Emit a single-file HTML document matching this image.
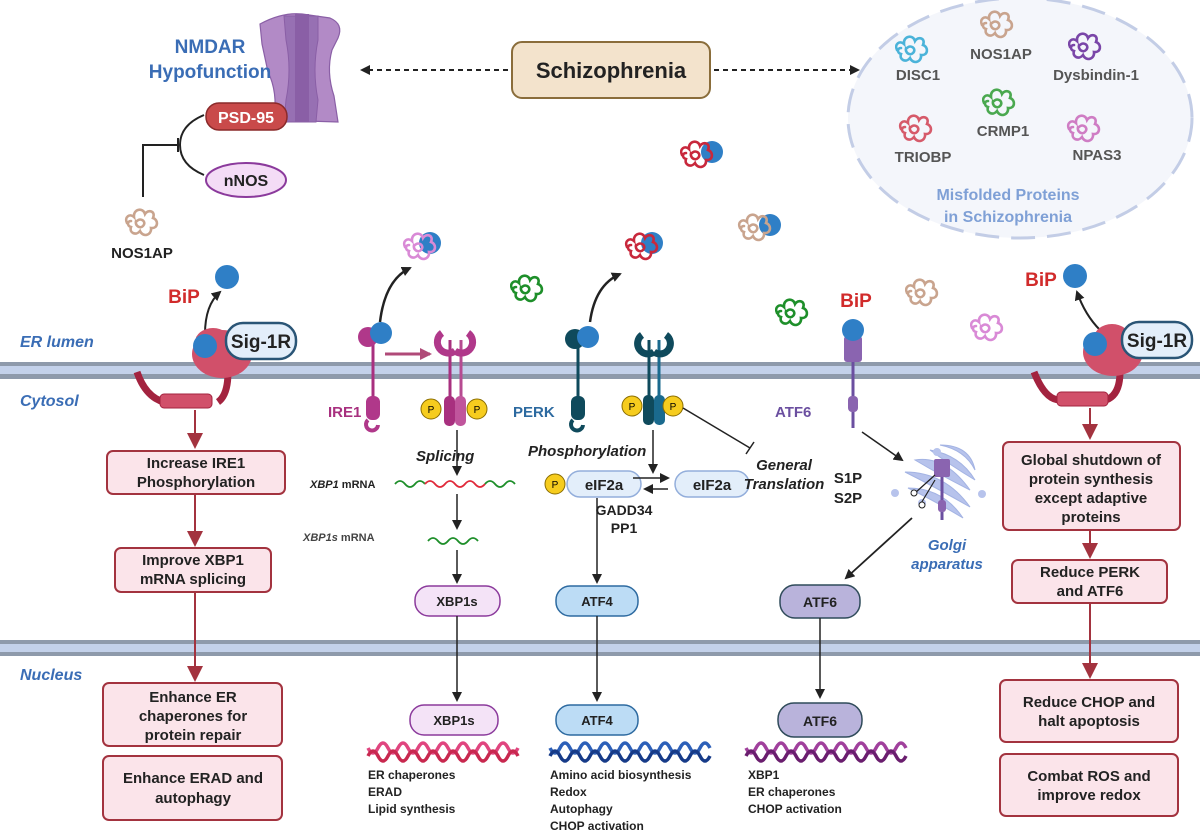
<!DOCTYPE html>
<html><head><meta charset="utf-8"><style>
html,body{margin:0;padding:0;background:#fff;}
svg{display:block;font-family:"Liberation Sans",Arial,sans-serif;}
</style></head><body>
<svg width="1200" height="832" viewBox="0 0 1200 832" xmlns="http://www.w3.org/2000/svg">
<defs>
<path id="sq" d="M-13,3 c-3,-6 3,-10 7,-6 c-1,-8 9,-10 11,-3 c3,-5 11,-3 8,4 c6,2 5,11 -2,10 c1,7 -8,10 -11,3 c-4,5 -11,2 -9,-4 c-4,-1 -4,-6 0,-6 M-3,1 c4,-4 10,1 6,5 c-3,3 -8,0 -7,-5" fill="none" stroke-width="2.6" stroke-linecap="round"/>
<marker id="ak" markerWidth="10" markerHeight="10" refX="8" refY="5" orient="auto" markerUnits="userSpaceOnUse"><path d="M0,0 L10,5 L0,10 z" fill="#222"/></marker>
<marker id="ar" markerWidth="18" markerHeight="16" refX="14" refY="8" orient="auto" markerUnits="userSpaceOnUse"><path d="M0,0 L16,8 L0,16 z" fill="#a3333f"/></marker>
<marker id="ap" markerWidth="12" markerHeight="12" refX="10" refY="6" orient="auto" markerUnits="userSpaceOnUse"><path d="M0,0 L12,6 L0,12 z" fill="#b04a78"/></marker>
</defs>

<rect x="0" y="362" width="1200" height="17" fill="#8e9aab"/>
<rect x="0" y="366" width="1200" height="8" fill="#c3d1ea"/>
<rect x="0" y="640" width="1200" height="16" fill="#8e9aab"/>
<rect x="0" y="644" width="1200" height="8" fill="#c3d1ea"/>

<g fill="#3a6db5" font-style="italic" font-weight="bold" font-size="16">
<text x="20" y="347">ER lumen</text>
<text x="20" y="406">Cytosol</text>
<text x="20" y="680">Nucleus</text>
</g>

<ellipse cx="1020" cy="118" rx="172" ry="120" fill="#f4f6fb" stroke="#c3cde6" stroke-width="3" stroke-dasharray="24,12"/>
<g font-size="15" font-weight="bold" fill="#555" text-anchor="middle">
<use href="#sq" x="910" y="47" stroke="#4bb3d9"/><text x="918" y="80">DISC1</text>
<use href="#sq" x="995" y="22" stroke="#c9a48e"/><text x="1001" y="59">NOS1AP</text>
<use href="#sq" x="1083" y="44" stroke="#7a46a8"/><text x="1096" y="80">Dysbindin-1</text>
<use href="#sq" x="997" y="100" stroke="#4aa84f"/><text x="1003" y="136">CRMP1</text>
<use href="#sq" x="914" y="126" stroke="#d65a6a"/><text x="923" y="162">TRIOBP</text>
<use href="#sq" x="1082" y="126" stroke="#cf7dc4"/><text x="1097" y="160">NPAS3</text>
</g>
<g font-size="16" font-weight="bold" fill="#7fa0d6" text-anchor="middle">
<text x="1008" y="200">Misfolded Proteins</text><text x="1008" y="222">in Schizophrenia</text></g>

<rect x="512" y="42" width="198" height="56" rx="10" fill="#f3e3cc" stroke="#8a6d3b" stroke-width="2"/>
<text x="611" y="78" font-size="22" font-weight="bold" text-anchor="middle" fill="#222">Schizophrenia</text>
<line x1="508" y1="70" x2="362" y2="70" stroke="#222" stroke-width="2" stroke-dasharray="5,4" marker-end="url(#ak)"/>
<line x1="714" y1="70" x2="858" y2="70" stroke="#222" stroke-width="2" stroke-dasharray="5,4" marker-end="url(#ak)"/>

<!-- NMDAR -->
<path d="M260,24 Q282,12 302,14 L330,18 Q344,24 338,38 L332,50 Q326,72 334,96 L338,122 L274,120 Q278,92 268,72 L262,44 z" fill="#b28ac6" stroke="#8a5fa6" stroke-width="1.2"/>
<path d="M284,16 L318,16 L318,40 Q312,70 318,100 L316,122 L284,122 L286,100 Q292,70 286,40 z" fill="#9770b3" stroke="#8a5fa6"/>
<rect x="295" y="14" width="14" height="108" fill="#8a5fa6"/>
<text x="210" y="53" font-size="19" font-weight="bold" fill="#3a6db5" text-anchor="middle">NMDAR</text>
<text x="210" y="78" font-size="19" font-weight="bold" fill="#3a6db5" text-anchor="middle">Hypofunction</text>
<rect x="206" y="103" width="81" height="27" rx="13" fill="#c94a4a" stroke="#8a2a2a" stroke-width="1.5"/>
<text x="246" y="123" font-size="16" font-weight="bold" fill="#fff" text-anchor="middle">PSD-95</text>
<ellipse cx="246" cy="180" rx="40" ry="17" fill="#f4dcf6" stroke="#8b3a9c" stroke-width="2"/>
<text x="246" y="186" font-size="16" font-weight="bold" text-anchor="middle" fill="#222">nNOS</text>
<path d="M204,115 Q180,125 180,145 Q180,165 204,175" fill="none" stroke="#222" stroke-width="2"/>
<path d="M143,197 L143,145 L178,145" fill="none" stroke="#222" stroke-width="2"/>
<line x1="178" y1="138" x2="178" y2="152" stroke="#222" stroke-width="2"/>
<use href="#sq" x="140" y="220" stroke="#c9a48e"/>
<text x="142" y="258" font-size="15" font-weight="bold" text-anchor="middle" fill="#222">NOS1AP</text>

<circle cx="712" cy="152" r="11" fill="#2f7fc6"/><use href="#sq" x="695" y="152" stroke="#c8283c"/>
<circle cx="770" cy="225" r="11" fill="#2f7fc6"/><use href="#sq" x="753" y="225" stroke="#c9a48e"/>
<use href="#sq" x="525" y="286" stroke="#1e8f2a"/>
<use href="#sq" x="790" y="310" stroke="#1e8f2a"/>
<use href="#sq" x="920" y="290" stroke="#c9a48e"/>
<use href="#sq" x="985" y="325" stroke="#d98ad6"/>

<text x="184" y="303" font-size="19" font-weight="bold" fill="#d12b2b" text-anchor="middle">BiP</text>
<circle cx="227" cy="277" r="12" fill="#2f7fc6"/>
<path d="M205,334 Q205,305 220,292" fill="none" stroke="#222" stroke-width="2" marker-end="url(#ak)"/>
<path d="M137,372 Q150,410 186,402 M218,402 Q228,395 228,372" fill="none" stroke="#a3233f" stroke-width="7"/>
<rect x="160" y="394" width="52" height="14" rx="4" fill="#d1506a" stroke="#a3233f"/>
<ellipse cx="222" cy="354" rx="30" ry="24" fill="#d1506a"/><ellipse cx="213" cy="342" rx="18" ry="14" fill="#d1506a"/>
<circle cx="205" cy="346" r="12" fill="#2f7fc6"/>
<rect x="226" y="323" width="70" height="36" rx="17" fill="#e3eefa" stroke="#2a5576" stroke-width="2.5"/>
<text x="261" y="348" font-size="19" font-weight="bold" text-anchor="middle" fill="#222">Sig-1R</text>
<line x1="195" y1="410" x2="195" y2="447" stroke="#a3333f" stroke-width="2" marker-end="url(#ar)"/>

<text x="1041" y="286" font-size="19" font-weight="bold" fill="#d12b2b" text-anchor="middle">BiP</text>
<circle cx="1075" cy="276" r="12" fill="#2f7fc6"/>
<path d="M1100,330 Q1085,315 1077,292" fill="none" stroke="#222" stroke-width="2" marker-end="url(#ak)"/>
<path d="M1034,372 Q1045,400 1060,400 M1106,400 Q1120,395 1120,372" fill="none" stroke="#a3233f" stroke-width="7"/>
<rect x="1057" y="392" width="51" height="14" rx="4" fill="#d1506a" stroke="#a3233f"/>
<ellipse cx="1113" cy="352" rx="30" ry="24" fill="#d1506a"/><ellipse cx="1112" cy="338" rx="18" ry="14" fill="#d1506a"/>
<circle cx="1095" cy="344" r="12" fill="#2f7fc6"/>
<rect x="1122" y="322" width="70" height="36" rx="17" fill="#e3eefa" stroke="#2a5576" stroke-width="2.5"/>
<text x="1157" y="347" font-size="19" font-weight="bold" text-anchor="middle" fill="#222">Sig-1R</text>
<line x1="1090" y1="408" x2="1090" y2="438" stroke="#a3333f" stroke-width="2" marker-end="url(#ar)"/>

<g fill="#fbe4ea" stroke="#a3333f" stroke-width="2">
<rect x="107" y="451" width="178" height="43" rx="6"/>
<rect x="115" y="548" width="156" height="44" rx="6"/>
<rect x="103" y="683" width="179" height="63" rx="6"/>
<rect x="103" y="756" width="179" height="64" rx="6"/>
<rect x="1003" y="442" width="177" height="88" rx="6"/>
<rect x="1012" y="560" width="155" height="43" rx="6"/>
<rect x="1000" y="680" width="178" height="62" rx="6"/>
<rect x="1000" y="754" width="178" height="62" rx="6"/>
</g>
<line x1="195" y1="494" x2="195" y2="545" stroke="#a3333f" stroke-width="2" marker-end="url(#ar)"/>
<line x1="195" y1="592" x2="195" y2="680" stroke="#a3333f" stroke-width="2" marker-end="url(#ar)"/>
<line x1="1090" y1="530" x2="1090" y2="557" stroke="#a3333f" stroke-width="2" marker-end="url(#ar)"/>
<line x1="1090" y1="603" x2="1090" y2="677" stroke="#a3333f" stroke-width="2" marker-end="url(#ar)"/>
<g font-size="15" font-weight="bold" fill="#222" text-anchor="middle">
<text x="196" y="468">Increase IRE1</text><text x="196" y="487">Phosphorylation</text>
<text x="193" y="565">Improve XBP1</text><text x="193" y="584">mRNA splicing</text>
<text x="193" y="702">Enhance ER</text><text x="193" y="721">chaperones for</text><text x="193" y="740">protein repair</text>
<text x="193" y="783">Enhance ERAD and</text><text x="193" y="803">autophagy</text>
<text x="1091" y="465">Global shutdown of</text><text x="1091" y="484">protein synthesis</text><text x="1091" y="503">except adaptive</text><text x="1091" y="522">proteins</text>
<text x="1090" y="577">Reduce PERK</text><text x="1090" y="596">and ATF6</text>
<text x="1089" y="707">Reduce CHOP and</text><text x="1089" y="726">halt apoptosis</text>
<text x="1089" y="781">Combat ROS and</text><text x="1089" y="800">improve redox</text>
</g>

<circle cx="430" cy="243" r="11" fill="#2f7fc6"/><use href="#sq" x="418" y="244" stroke="#d98ad6"/>
<path d="M380,322 Q385,280 410,268" fill="none" stroke="#222" stroke-width="2.5" marker-end="url(#ak)"/>
<line x1="373" y1="340" x2="373" y2="400" stroke="#a8307f" stroke-width="3"/>
<circle cx="368" cy="337" r="10" fill="#b0388a"/><circle cx="381" cy="333" r="11" fill="#2f7fc6"/>
<rect x="366" y="396" width="14" height="24" rx="6" fill="#b0388a"/>
<path d="M368,420 a6,6 0 1 0 10,5" fill="none" stroke="#b0388a" stroke-width="4"/>
<line x1="385" y1="354" x2="430" y2="354" stroke="#b04a78" stroke-width="3" marker-end="url(#ap)"/>
<line x1="450" y1="340" x2="450" y2="400" stroke="#a8307f" stroke-width="3"/>
<line x1="461" y1="340" x2="461" y2="400" stroke="#b64b91" stroke-width="3"/>
<path d="M442,333 a10,10 0 0 0 13,18 M468,333 a10,10 0 0 1 -13,18" fill="none" stroke="#b0388a" stroke-width="7"/>
<rect x="444" y="396" width="11" height="30" rx="5" fill="#a8307f"/><rect x="455" y="396" width="11" height="30" rx="5" fill="#c0559c"/>
<circle cx="431" cy="409" r="10" fill="#f6cc1e" stroke="#8a6d00"/><text x="431" y="413" font-size="10" text-anchor="middle">P</text>
<circle cx="477" cy="409" r="10" fill="#f6cc1e" stroke="#8a6d00"/><text x="477" y="413" font-size="10" text-anchor="middle">P</text>
<text x="328" y="417" font-size="15" font-weight="bold" fill="#a8307f">IRE1</text>
<text x="416" y="461" font-size="15" font-weight="bold" font-style="italic" fill="#222">Splicing</text>
<line x1="457" y1="430" x2="457" y2="474" stroke="#222" stroke-width="1.5" marker-end="url(#ak)"/>
<text x="310" y="488" font-size="11" font-weight="bold" fill="#222"><tspan font-style="italic">XBP1</tspan> mRNA</text>
<path d="M395,484 q5,-6 10,0 t10,0 t10,0" fill="none" stroke="#1e8f2a" stroke-width="1.8"/>
<path d="M425,484 q5,-6 10,0 t10,0 t10,0 t10,0 t10,0 t10,0" fill="none" stroke="#e02a3a" stroke-width="1.8"/>
<path d="M485,484 q5,-6 10,0 t10,0 t10,0" fill="none" stroke="#1e8f2a" stroke-width="1.8"/>
<line x1="457" y1="494" x2="457" y2="528" stroke="#222" stroke-width="1.5" marker-end="url(#ak)"/>
<text x="303" y="541" font-size="11" font-weight="bold" fill="#444"><tspan font-style="italic">XBP1s</tspan> mRNA</text>
<path d="M428,541 q5,-6 10,0 t10,0 t10,0 t10,0 t10,0" fill="none" stroke="#1e8f2a" stroke-width="1.8"/>
<line x1="457" y1="550" x2="457" y2="582" stroke="#222" stroke-width="1.5" marker-end="url(#ak)"/>
<rect x="415" y="586" width="85" height="30" rx="14" fill="#f4e3f7" stroke="#8b3a9c" stroke-width="1.5"/>
<text x="457" y="606" font-size="13" font-weight="bold" text-anchor="middle" fill="#222">XBP1s</text>
<line x1="457" y1="616" x2="457" y2="700" stroke="#222" stroke-width="1.5" marker-end="url(#ak)"/>
<rect x="410" y="705" width="88" height="30" rx="14" fill="#f4e3f7" stroke="#8b3a9c" stroke-width="1.5"/>
<text x="454" y="725" font-size="13" font-weight="bold" text-anchor="middle" fill="#222">XBP1s</text>
<path d="M368,748 q5,10 10,0 t10,0 t10,0 t10,0 t10,0 t10,0 t10,0 t10,0 t10,0 t10,0 t10,0 t10,0 t10,0 t10,0 t10,0" fill="none" stroke="#e0457f" stroke-width="3.5"/>
<path d="M368,756 q5,-10 10,0 t10,0 t10,0 t10,0 t10,0 t10,0 t10,0 t10,0 t10,0 t10,0 t10,0 t10,0 t10,0 t10,0 t10,0" fill="none" stroke="#c8284f" stroke-width="3.5"/>
<g font-size="12" font-weight="bold" fill="#222">
<text x="368" y="779">ER chaperones</text><text x="368" y="796">ERAD</text><text x="368" y="813">Lipid synthesis</text>
<text x="550" y="779">Amino acid biosynthesis</text><text x="550" y="796">Redox</text><text x="550" y="813">Autophagy</text><text x="550" y="830">CHOP activation</text>
<text x="748" y="779">XBP1</text><text x="748" y="796">ER chaperones</text><text x="748" y="813">CHOP activation</text>
</g>

<circle cx="652" cy="243" r="11" fill="#2f7fc6"/><use href="#sq" x="640" y="244" stroke="#c8283c"/>
<path d="M590,322 Q595,285 620,274" fill="none" stroke="#222" stroke-width="2.5" marker-end="url(#ak)"/>
<line x1="578" y1="340" x2="578" y2="400" stroke="#0f4a5c" stroke-width="3"/>
<circle cx="575" cy="339" r="10" fill="#0f4a5c"/><circle cx="588" cy="337" r="11" fill="#2f7fc6"/>
<rect x="571" y="396" width="14" height="24" rx="6" fill="#0f4a5c"/>
<path d="M573,420 a6,6 0 1 0 10,5" fill="none" stroke="#0f4a5c" stroke-width="4"/>
<line x1="649" y1="340" x2="649" y2="400" stroke="#0f4a5c" stroke-width="3"/>
<line x1="659" y1="340" x2="659" y2="400" stroke="#1a6a8e" stroke-width="3"/>
<path d="M642,335 a10,10 0 0 0 12,17 M666,335 a10,10 0 0 1 -12,17" fill="none" stroke="#0f4a5c" stroke-width="7"/>
<rect x="643" y="395" width="11" height="30" rx="5" fill="#0f4a5c"/><rect x="654" y="395" width="11" height="30" rx="5" fill="#1a6a8e"/>
<circle cx="632" cy="406" r="10" fill="#f6cc1e" stroke="#8a6d00"/><text x="632" y="410" font-size="10" text-anchor="middle">P</text>
<circle cx="673" cy="406" r="10" fill="#f6cc1e" stroke="#8a6d00"/><text x="673" y="410" font-size="10" text-anchor="middle">P</text>
<text x="513" y="417" font-size="15" font-weight="bold" fill="#2d6aa0">PERK</text>
<line x1="683" y1="408" x2="750" y2="448" stroke="#222" stroke-width="1.5"/>
<line x1="746" y1="454" x2="754" y2="442" stroke="#222" stroke-width="1.5"/>
<text x="528" y="456" font-size="15" font-weight="bold" font-style="italic" fill="#222">Phosphorylation</text>
<line x1="653" y1="430" x2="653" y2="472" stroke="#222" stroke-width="1.5" marker-end="url(#ak)"/>
<circle cx="555" cy="484" r="10" fill="#f6cc1e" stroke="#8a6d00"/><text x="555" y="488" font-size="10" text-anchor="middle">P</text>
<rect x="567" y="471" width="74" height="26" rx="13" fill="#e3eefa" stroke="#93aedb" stroke-width="1.5"/>
<text x="604" y="490" font-size="15" font-weight="bold" text-anchor="middle" fill="#222">eIF2a</text>
<rect x="675" y="471" width="74" height="26" rx="13" fill="#e3eefa" stroke="#93aedb" stroke-width="1.5"/>
<text x="712" y="490" font-size="15" font-weight="bold" text-anchor="middle" fill="#222">eIF2a</text>
<line x1="633" y1="478" x2="668" y2="478" stroke="#222" stroke-width="1.5" marker-end="url(#ak)"/>
<line x1="668" y1="489" x2="645" y2="489" stroke="#222" stroke-width="1.5" marker-end="url(#ak)"/>
<text x="624" y="515" font-size="14" font-weight="bold" text-anchor="middle" fill="#222">GADD34</text>
<text x="624" y="533" font-size="14" font-weight="bold" text-anchor="middle" fill="#222">PP1</text>
<text x="784" y="470" font-size="15" font-weight="bold" font-style="italic" text-anchor="middle" fill="#222">General</text>
<text x="784" y="489" font-size="15" font-weight="bold" font-style="italic" text-anchor="middle" fill="#222">Translation</text>
<line x1="597" y1="498" x2="597" y2="582" stroke="#222" stroke-width="1.5" marker-end="url(#ak)"/>
<rect x="556" y="586" width="82" height="30" rx="14" fill="#bcdcf5" stroke="#2d6aa0" stroke-width="1.5"/>
<text x="597" y="606" font-size="13" font-weight="bold" text-anchor="middle" fill="#222">ATF4</text>
<line x1="597" y1="616" x2="597" y2="700" stroke="#222" stroke-width="1.5" marker-end="url(#ak)"/>
<rect x="556" y="705" width="82" height="30" rx="14" fill="#bcdcf5" stroke="#2d6aa0" stroke-width="1.5"/>
<text x="597" y="725" font-size="13" font-weight="bold" text-anchor="middle" fill="#222">ATF4</text>
<path d="M550,748 q5,10 10,0 t10,0 t10,0 t10,0 t10,0 t10,0 t10,0 t10,0 t10,0 t10,0 t10,0 t10,0 t10,0 t10,0 t10,0 t10,0" fill="none" stroke="#2c5fb8" stroke-width="3.5"/>
<path d="M550,756 q5,-10 10,0 t10,0 t10,0 t10,0 t10,0 t10,0 t10,0 t10,0 t10,0 t10,0 t10,0 t10,0 t10,0 t10,0 t10,0 t10,0" fill="none" stroke="#163a88" stroke-width="3.5"/>

<text x="856" y="307" font-size="19" font-weight="bold" fill="#d12b2b" text-anchor="middle">BiP</text>
<line x1="853" y1="340" x2="853" y2="428" stroke="#6b4fa0" stroke-width="3"/>
<rect x="844" y="336" width="18" height="26" rx="3" fill="#8a64b0"/>
<circle cx="853" cy="330" r="11" fill="#2f7fc6"/>
<rect x="848" y="396" width="10" height="16" rx="4" fill="#8a64b0"/>
<text x="775" y="417" font-size="15" font-weight="bold" fill="#6b4fa0">ATF6</text>
<line x1="862" y1="432" x2="902" y2="460" stroke="#222" stroke-width="1.5" marker-end="url(#ak)"/>
<g fill="#b7c3ec" stroke="#a3b3e3">
<path d="M915,460 q30,-5 55,30 q-30,-15 -55,-30z"/>
<path d="M905,472 q40,0 65,35 q-35,-20 -65,-35z"/>
<path d="M908,488 q35,0 55,30 q-30,-18 -55,-30z"/>
<path d="M930,450 q30,5 45,30 q-25,-15 -45,-30z"/>
<path d="M975,470 q-10,-20 -35,-25 q30,0 35,25z"/>
</g>
<circle cx="937" cy="452" r="4" fill="#b7c3ec"/><circle cx="895" cy="493" r="4" fill="#b7c3ec"/><circle cx="982" cy="494" r="4" fill="#b7c3ec"/><circle cx="922" cy="503" r="4" fill="#b7c3ec"/>
<line x1="942" y1="465" x2="942" y2="520" stroke="#6b4fa0" stroke-width="3"/>
<rect x="934" y="459" width="16" height="18" rx="2" fill="#8a64b0"/>
<rect x="938" y="500" width="8" height="12" rx="3" fill="#8a64b0"/>
<path d="M915,493 l20,-18 M920,505 l15,-25" stroke="#222" stroke-width="1.2"/>
<circle cx="914" cy="493" r="3" fill="#fff" stroke="#222"/><circle cx="922" cy="505" r="3" fill="#fff" stroke="#222"/>
<text x="848" y="483" font-size="15" font-weight="bold" fill="#222" text-anchor="middle">S1P</text>
<text x="848" y="503" font-size="15" font-weight="bold" fill="#222" text-anchor="middle">S2P</text>
<text x="947" y="550" font-size="15" font-weight="bold" font-style="italic" fill="#3a6db5" text-anchor="middle">Golgi</text>
<text x="947" y="569" font-size="15" font-weight="bold" font-style="italic" fill="#3a6db5" text-anchor="middle">apparatus</text>
<line x1="912" y1="518" x2="846" y2="578" stroke="#222" stroke-width="1.8" marker-end="url(#ak)"/>
<rect x="780" y="585" width="80" height="33" rx="15" fill="#b9b3db" stroke="#2f4b5a" stroke-width="1.5"/>
<text x="820" y="607" font-size="14" font-weight="bold" text-anchor="middle" fill="#222">ATF6</text>
<line x1="820" y1="618" x2="820" y2="697" stroke="#222" stroke-width="1.5" marker-end="url(#ak)"/>
<rect x="778" y="703" width="84" height="34" rx="16" fill="#b9b3db" stroke="#2f4b5a" stroke-width="1.5"/>
<text x="820" y="726" font-size="14" font-weight="bold" text-anchor="middle" fill="#222">ATF6</text>
<path d="M746,748 q5,10 10,0 t10,0 t10,0 t10,0 t10,0 t10,0 t10,0 t10,0 t10,0 t10,0 t10,0 t10,0 t10,0 t10,0 t10,0 t10,0" fill="none" stroke="#a0409c" stroke-width="3.5"/>
<path d="M746,756 q5,-10 10,0 t10,0 t10,0 t10,0 t10,0 t10,0 t10,0 t10,0 t10,0 t10,0 t10,0 t10,0 t10,0 t10,0 t10,0 t10,0" fill="none" stroke="#6a1e6e" stroke-width="3.5"/>
</svg>
</body></html>
